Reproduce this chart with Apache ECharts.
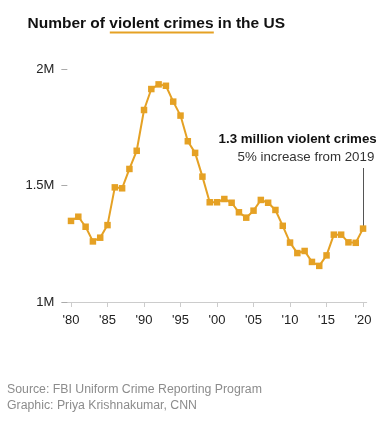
<!DOCTYPE html>
<html>
<head>
<meta charset="utf-8">
<script src="https://cdn.jsdelivr.net/npm/echarts@6/dist/echarts.min.js"></script>
<style>
html,body{margin:0;padding:0;background:#fff;}
#chart{width:390px;height:427px;}
</style>
</head>
<body>
<div id="chart"></div>
<script>
var years = [];
for (var y = 1980; y <= 2020; y++) years.push(String(y));
var crimesMillions = [1.348, 1.366, 1.323, 1.260, 1.276, 1.330, 1.492, 1.488, 1.571, 1.649,
  1.824, 1.914, 1.934, 1.928, 1.860, 1.800, 1.690, 1.640, 1.538, 1.428,
  1.428, 1.442, 1.426, 1.385, 1.362, 1.392, 1.438, 1.426, 1.395, 1.327,
  1.255, 1.210, 1.219, 1.172, 1.155, 1.200, 1.289, 1.289, 1.256, 1.254,
  1.315];
var yTicks = [1, 1.5, 2];
var yTickLabels = ['1M', '1.5M', '2M'];
var title = 'Number of violent crimes in the US';
var annoTitle = '1.3 million violent crimes';
var annoSub = '5% increase from 2019';
var annoTop = 1.575;
var sourceLines = ['Source: FBI Uniform Crime Reporting Program', 'Graphic: Priya Krishnakumar, CNN'];

var FONT = '"Liberation Sans", Arial, Helvetica, sans-serif';
var ORANGE = '#E5A124';

var chart = echarts.init(document.getElementById('chart'), null, {renderer: 'canvas'});
var every5 = function (idx, val) { return (+val) % 5 === 0; };
chart.setOption({
  animation: false,
  backgroundColor: '#fff',
  grid: {left: 67.35, right: 23.3, top: 69, bottom: 125},
  xAxis: {
    type: 'category',
    data: years,
    boundaryGap: true,
    axisLine: {lineStyle: {color: '#cccccc', width: 1}},
    axisTick: {show: true, interval: every5, alignWithLabel: true, length: 5, lineStyle: {color: '#cccccc'}},
    axisLabel: {interval: every5, margin: 12, fontSize: 13, color: '#222', fontFamily: FONT,
      formatter: function (v) { return '\'' + v.slice(2); }}
  },
  yAxis: {
    type: 'value',
    min: yTicks[0], max: yTicks[yTicks.length - 1], interval: 0.5,
    splitLine: {show: false},
    axisLine: {show: false},
    axisTick: {show: true, length: 6, lineStyle: {color: '#aaaaaa'}},
    axisLabel: {margin: 13, fontSize: 13, color: '#222', fontFamily: FONT,
      formatter: function (v) { var i = yTicks.indexOf(v); return i >= 0 ? yTickLabels[i] : ''; }}
  },
  series: [{
    type: 'line',
    data: crimesMillions,
    symbol: 'rect',
    symbolSize: 6.5,
    showAllSymbol: true,
    lineStyle: {color: ORANGE, width: 2},
    itemStyle: {color: ORANGE},
    z: 3,
    markLine: {
      silent: true,
      symbol: ['none', 'none'],
      label: {show: false},
      lineStyle: {color: '#555', width: 1, type: 'solid'},
      data: [[{coord: ['2020', annoTop]}, {coord: ['2020', crimesMillions[crimesMillions.length - 1]]}]],
      z: 1
    }
  }],
  graphic: [
    {type: 'text', left: 27.5, top: 16, style: {text: title, font: 'bold 15.5px ' + FONT, fill: '#111'}},
    {type: 'rect', shape: {x: 109.8, y: 31.5, width: 104, height: 2}, style: {fill: ORANGE}},
    {type: 'text', right: 13.3, top: 132.5, style: {text: annoTitle, font: 'bold 13.3px ' + FONT, fill: '#111', align: 'right'}},
    {type: 'text', right: 15.7, top: 151, style: {text: annoSub, font: '13.3px ' + FONT, fill: '#333', align: 'right'}},
    {type: 'text', left: 7, top: 384, style: {text: sourceLines[0], font: '12.3px ' + FONT, fill: '#8c8c8c'}},
    {type: 'text', left: 7, top: 399.5, style: {text: sourceLines[1], font: '12.3px ' + FONT, fill: '#8c8c8c'}}
  ]
});
</script>
</body>
</html>
